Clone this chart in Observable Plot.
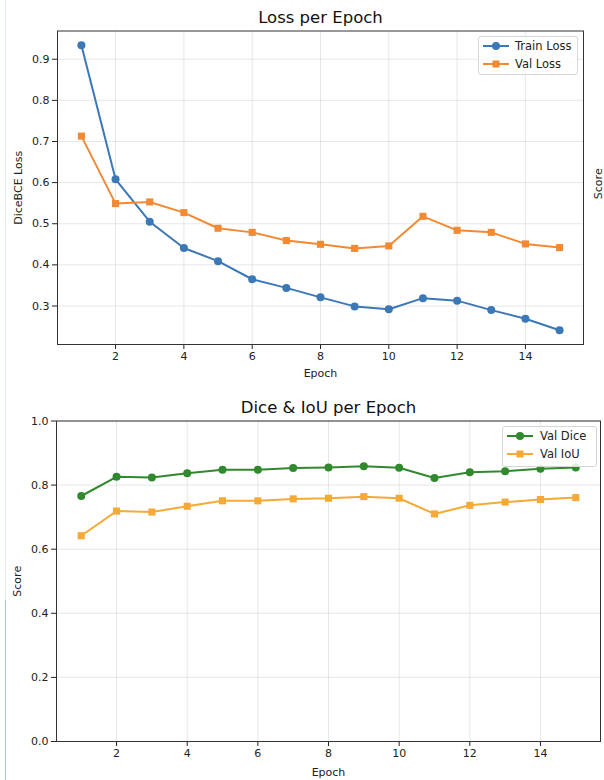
<!DOCTYPE html>
<html>
<head>
<meta charset="utf-8">
<script src="https://cdn.jsdelivr.net/npm/d3@7"></script>
<script src="https://cdn.jsdelivr.net/npm/@observablehq/plot@0.6"></script>
<style>
  html, body { margin: 0; padding: 0; background: #fff; }
  #root { position: relative; width: 604px; height: 780px; overflow: hidden; font-family: "DejaVu Sans", sans-serif; }
  .chart { position: absolute; left: 0; }
  .legend { position: absolute; background: rgba(255,255,255,0.85); border: 1px solid #d6d6d6; border-radius: 3px; box-sizing: border-box; }
  .legend .row { position: absolute; left: 0; height: 14px; }
  .legend svg { position: absolute; top: 0; }
  .legend span { position: absolute; top: 0; line-height: 14px; font-size: 11.5px; color: #222; white-space: nowrap; }
  .edge { position: absolute; width: 1px; }
</style>
</head>
<body>
<div id="root"></div>
<script>
// ---- data ----
const epochs = [1, 2, 3, 4, 5, 6, 7, 8, 9, 10, 11, 12, 13, 14, 15];
const trainLoss = [0.934, 0.608, 0.505, 0.441, 0.409, 0.365, 0.344, 0.321, 0.299, 0.292, 0.319, 0.313, 0.290, 0.269, 0.241];
const valLoss   = [0.713, 0.549, 0.553, 0.527, 0.489, 0.479, 0.459, 0.450, 0.440, 0.446, 0.518, 0.484, 0.479, 0.451, 0.442];
const valDice   = [0.766, 0.826, 0.824, 0.837, 0.848, 0.848, 0.853, 0.855, 0.859, 0.854, 0.822, 0.840, 0.843, 0.851, 0.855];
const valIoU    = [0.642, 0.719, 0.716, 0.734, 0.751, 0.751, 0.757, 0.759, 0.764, 0.759, 0.710, 0.737, 0.747, 0.755, 0.761];
const xTicks = [2, 4, 6, 8, 10, 12, 14];
const lossTicks = [0.3, 0.4, 0.5, 0.6, 0.7, 0.8, 0.9];
const scoreTicks = [0.0, 0.2, 0.4, 0.6, 0.8, 1.0];

const C = { train: "#3a78b6", val: "#f28a35", dice: "#31892d", iou: "#f6aa36" };

const toRows = (vals) => epochs.map((e, i) => ({ epoch: e, value: vals[i] }));
const trainRows = toRows(trainLoss), valRows = toRows(valLoss);
const diceRows = toRows(valDice), iouRows = toRows(valIoU);

// matplotlib-like 5% margins on y
const lossMin = d3.min([...trainLoss, ...valLoss]), lossMax = d3.max([...trainLoss, ...valLoss]);
const pad = (lossMax - lossMin) * 0.05;

const root = document.getElementById("root");
const baseStyle = { fontFamily: "DejaVu Sans, sans-serif", fontSize: "11px", color: "#222", background: "transparent", overflow: "visible" };
const centered = { textAnchor: "middle", lineAnchor: "middle" };

function seriesMarks(rows, color, symbol) {
  return [
    Plot.line(rows, { x: "epoch", y: "value", stroke: color, strokeWidth: 2 }),
    Plot.dot(rows, { x: "epoch", y: "value", fill: color, r: 4, symbol })
  ];
}

const lossChart = Plot.plot({
  width: 604, height: 390,
  marginLeft: 57, marginRight: 21, marginTop: 30.5, marginBottom: 46,
  style: baseStyle,
  x: { domain: [0.3, 15.7] },
  y: { domain: [lossMin - pad, lossMax + pad] },
  marks: [
    Plot.gridX(xTicks, { stroke: "#b0b0b0", strokeOpacity: 0.3 }),
    Plot.gridY(lossTicks, { stroke: "#b0b0b0", strokeOpacity: 0.3 }),
    Plot.axisX({ ticks: xTicks, tickSize: 5, tickPadding: 3, label: null, tickFormat: d => String(d) }),
    Plot.axisY({ ticks: lossTicks, tickSize: 5, tickPadding: 3, label: null, tickFormat: d => d.toFixed(1) }),
    ...seriesMarks(trainRows, C.train, "circle"),
    ...seriesMarks(valRows, C.val, "square"),
    Plot.frame({ stroke: "#333" }),
    Plot.text(["Loss per Epoch"], { frameAnchor: "top", dy: -13.5, fontSize: 16.5, fill: "#111", ...centered }),
    Plot.text(["Epoch"], { frameAnchor: "bottom", dy: 29, fill: "#222", ...centered }),
    Plot.text(["DiceBCE Loss"], { frameAnchor: "left", dx: -39, rotate: -90, fill: "#222", ...centered }),
    Plot.text(["Score"], { frameAnchor: "right", dx: 15, dy: -4, rotate: -90, fill: "#222", ...centered })
  ]
});
lossChart.classList.add("chart");
lossChart.style.top = "0px";
root.appendChild(lossChart);

const scoreChart = Plot.plot({
  width: 604, height: 390,
  marginLeft: 56, marginRight: 4, marginTop: 30.5, marginBottom: 39,
  style: baseStyle,
  x: { domain: [0.3, 15.7] },
  y: { domain: [0, 1] },
  marks: [
    Plot.gridX(xTicks, { stroke: "#b0b0b0", strokeOpacity: 0.3 }),
    Plot.gridY(scoreTicks, { stroke: "#b0b0b0", strokeOpacity: 0.3 }),
    Plot.axisX({ ticks: xTicks, tickSize: 5, tickPadding: 3, label: null, tickFormat: d => String(d) }),
    Plot.axisY({ ticks: scoreTicks, tickSize: 5, tickPadding: 3, label: null, tickFormat: d => d.toFixed(1) }),
    ...seriesMarks(diceRows, C.dice, "circle"),
    ...seriesMarks(iouRows, C.iou, "square"),
    Plot.frame({ stroke: "#333" }),
    Plot.text(["Dice & IoU per Epoch"], { frameAnchor: "top", dy: -13.5, fontSize: 16.5, fill: "#111", ...centered }),
    Plot.text(["Epoch"], { frameAnchor: "bottom", dy: 30.5, fill: "#222", ...centered }),
    Plot.text(["Score"], { frameAnchor: "left", dx: -39, rotate: -90, fill: "#222", ...centered })
  ]
});
scoreChart.classList.add("chart");
scoreChart.style.top = "390px";
root.appendChild(scoreChart);

// ---- legends ----
function legend(left, topPx, width, height, items) {
  const box = document.createElement("div");
  box.className = "legend";
  Object.assign(box.style, { left: left + "px", top: topPx + "px", width: width + "px", height: height + "px" });
  items.forEach((it, i) => {
    const row = document.createElement("div");
    row.className = "row";
    row.style.top = (2 + i * 18) + "px";
    row.style.width = width + "px";
    const mk = it.symbol === "circle"
      ? `<circle cx="14" cy="7" r="4" fill="${it.color}"/>`
      : `<rect x="10.5" y="3.5" width="7" height="7" fill="${it.color}"/>`;
    row.innerHTML = `<svg width="30" height="14" style="left:3px"><line x1="1" y1="7" x2="27" y2="7" stroke="${it.color}" stroke-width="2"/>${mk}</svg><span style="left:${it.textLeft}px">${it.label}</span>`;
    box.appendChild(row);
  });
  root.appendChild(box);
}
legend(478, 36, 100, 39, [
  { label: "Train Loss", color: C.train, symbol: "circle", textLeft: 36 },
  { label: "Val Loss", color: C.val, symbol: "square", textLeft: 36 }
]);
legend(502, 426, 95, 41, [
  { label: "Val Dice", color: C.dice, symbol: "circle", textLeft: 37 },
  { label: "Val IoU", color: C.iou, symbol: "square", textLeft: 37 }
]);

// faint page-edge lines from the screenshot
const e1 = document.createElement("div");
e1.className = "edge";
Object.assign(e1.style, { left: "5px", top: "0px", height: "600px", background: "#e4edf7" });
root.appendChild(e1);
const e2 = document.createElement("div");
e2.className = "edge";
Object.assign(e2.style, { left: "5px", top: "600px", height: "180px", background: "#a8c6e6" });
root.appendChild(e2);
</script>
</body>
</html>
